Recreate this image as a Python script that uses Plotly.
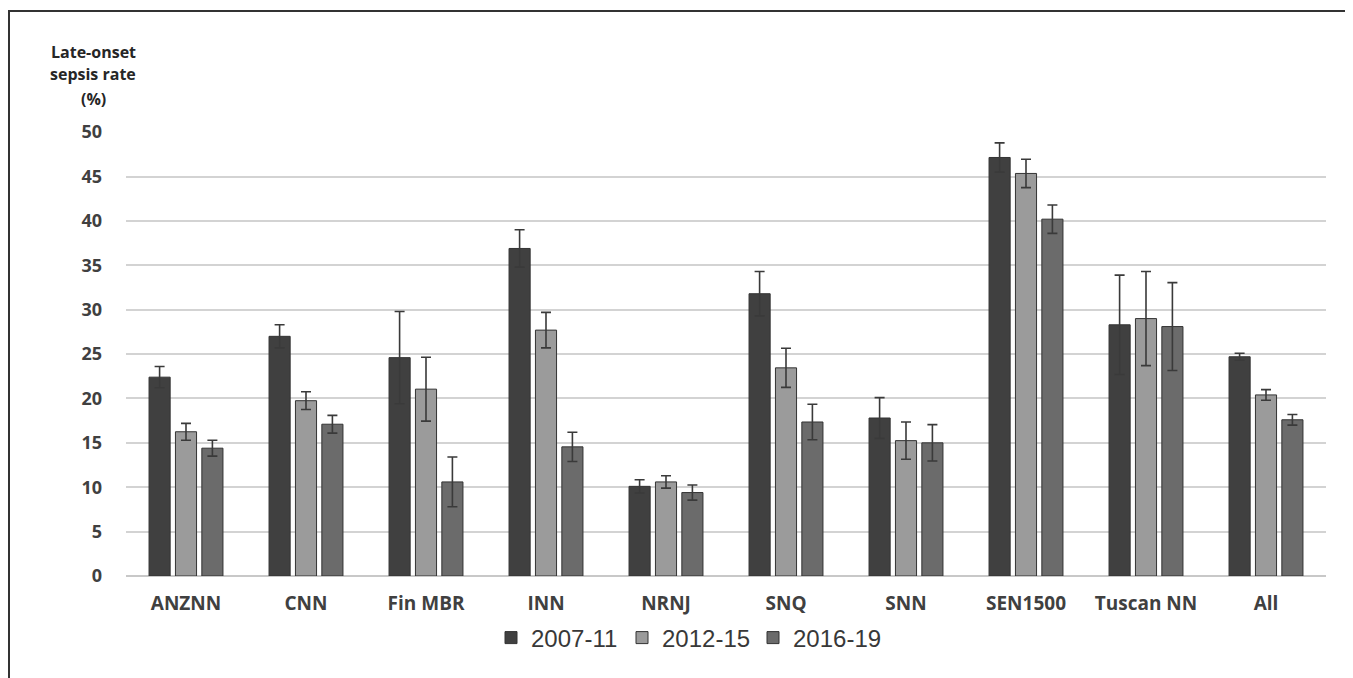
import plotly.graph_objects as go

categories = ["ANZNN", "CNN", "Fin MBR", "INN", "NRNJ", "SNQ", "SNN", "SEN1500", "Tuscan NN", "All"]
series_names = ["2007-11", "2012-15", "2016-19"]
rate_2007_11 = [22.4, 27.0, 24.6, 36.9, 10.1, 31.8, 17.8, 47.15, 28.3, 24.7]
err_2007_11 = [1.2, 1.3, 5.2, 2.1, 0.75, 2.5, 2.3, 1.65, 5.6, 0.4]
rate_2012_15 = [16.25, 19.75, 21.05, 27.7, 10.6, 23.45, 15.25, 45.35, 29.0, 20.4]
err_2012_15 = [0.95, 1.0, 3.6, 2.0, 0.7, 2.2, 2.1, 1.6, 5.3, 0.6]
rate_2016_19 = [14.4, 17.1, 10.6, 14.55, 9.4, 17.35, 15.0, 40.2, 28.1, 17.6]
err_2016_19 = [0.9, 1.0, 2.8, 1.65, 0.85, 2.0, 2.05, 1.6, 4.95, 0.6]
y_ticks = [0, 5, 10, 15, 20, 25, 30, 35, 40, 45, 50]

colors = ["#404040", "#9b9b9b", "#6b6b6b"]
values = [rate_2007_11, rate_2012_15, rate_2016_19]
errors = [err_2007_11, err_2012_15, err_2016_19]

fig = go.Figure()
for name, vals, errs, col in zip(series_names, values, errors, colors):
    fig.add_trace(go.Bar(
        x=categories, y=vals, name=name,
        marker=dict(color=col, line=dict(color="#333333", width=1)),
        error_y=dict(type="data", array=errs, visible=True,
                     color="#3a3a3a", thickness=1.6, width=5),
    ))

# page body has an 8px margin; figure is sized to fill the rest of the window
OFF = 8
W, H = 1353 - OFF, 678 - OFF
L, R, T, B = 126 - OFF, 27, 132 - OFF, 102
pw, ph = W - L - R, H - T - B

def px(x):
    return (x - OFF - L) / pw

def py(y):
    return (H - B - (y - OFF)) / ph

fig.update_layout(
    width=W, height=H,
    margin=dict(l=L, r=R, t=T, b=B, autoexpand=False),
    paper_bgcolor="white", plot_bgcolor="white",
    barmode="group", bargap=0.34, bargroupgap=0.2,
    showlegend=True,
    legend=dict(orientation="h", x=px(491), xanchor="left", y=py(638), yanchor="middle",
                font=dict(family="Liberation Sans, Arial", size=24, color="#383838"),
                itemwidth=30, traceorder="normal", entrywidth=86),
    xaxis=dict(showgrid=False, showline=False, ticks="",
               tickfont=dict(family="Open Sans", size=19, color="#404040", weight="bold"),
               ticklabelstandoff=14),
    yaxis=dict(range=[0, 50.02], tickvals=y_ticks, showgrid=True, gridcolor="#d3d3d3", gridwidth=2,
               zeroline=True, zerolinecolor="#c8c8c8", zerolinewidth=2, showline=False, ticks="",
               tickfont=dict(family="Open Sans", size=18, color="#404040", weight="bold"),
               ticklabelstandoff=23),
)

title_lines = [("Late-onset", 52), ("sepsis rate", 74), ("(%)", 99)]
for txt, yy in title_lines:
    fig.add_annotation(text=txt, xref="paper", yref="paper", x=px(93), y=py(yy),
                       xanchor="center", yanchor="middle", showarrow=False,
                       font=dict(family="Open Sans", size=16, color="#262626", weight="bold"))

# outer frame (left and top)
fig.add_shape(type="line", xref="paper", yref="paper", x0=px(9), x1=px(9), y0=py(10), y1=py(700),
              line=dict(color="#333333", width=2))
fig.add_shape(type="line", xref="paper", yref="paper", x0=px(9), x1=px(1400), y0=py(11), y1=py(11),
              line=dict(color="#333333", width=2))

fig.write_html("out.html")
